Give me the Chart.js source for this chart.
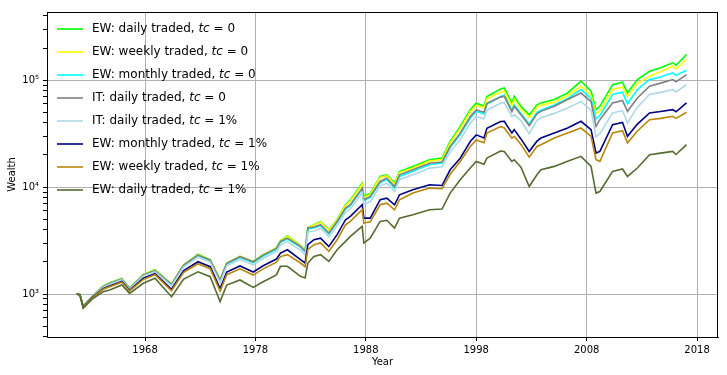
<!DOCTYPE html>
<html>
<head>
<meta charset="utf-8">
<script src="https://cdn.jsdelivr.net/npm/chart.js"></script>
<style>
  html, body { margin: 0; padding: 0; background: #fff; }
  #c { display: block; }
</style>
</head>
<body>
<canvas id="c" width="727" height="375"></canvas>
<script>
var years = [1961.8, 1962.1, 1962.4, 1963.3, 1964.2, 1964.8, 1965.9, 1966.6, 1967.85, 1968.9,
  1970.4, 1971.5, 1972.8, 1973.9, 1974.8, 1975.4, 1976.6, 1977.8, 1978.7, 1979.9,
  1980.27, 1980.9, 1982.08, 1982.5, 1982.75, 1983.3, 1983.9, 1984.65, 1985.4, 1986.16,
  1986.6, 1987.67, 1987.82, 1988.4, 1989.3, 1989.9, 1990.6, 1991.05, 1992.26, 1993.77,
  1994.9, 1995.64, 1996.55, 1997.46, 1998.0, 1998.7, 1998.97, 2000.2, 2000.54, 2001.23,
  2001.44, 2002.05, 2002.8, 2003.5, 2003.86, 2005.07, 2006.28, 2007.49, 2008.4, 2008.85,
  2009.2, 2010.35, 2011.25, 2011.7, 2012.6, 2013.7, 2014.7, 2015.8, 2016.1, 2017.05];

var ewDaily0 = [1000, 990, 770, 970, 1183, 1274, 1396, 1140, 1524, 1690,
  1235, 1880, 2355, 2095, 1360, 1950, 2250, 2015, 2330, 2700,
  3162, 3508, 2831, 2541, 4217, 4446, 4775, 3990, 4955, 6839,
  7586, 10889, 8185, 8710, 12589, 13032, 10889, 13996, 15596, 17989,
  18664, 26730, 36898, 52845, 60954, 57544, 70307, 82800, 84723, 60954,
  70795, 56885, 47424, 58884, 61376, 65917, 76033, 97949, 78886, 53088,
  57016, 90991, 95719, 76033, 101400, 121339, 130600, 145546, 138038, 174181];

var ewWeekly0 = [1000, 990, 769, 968, 1180, 1270, 1393, 1137, 1520, 1667,
  1233, 1875, 2340, 2090, 1358, 1945, 2245, 2010, 2325, 2690,
  3141, 3467, 2818, 2529, 4188, 4416, 4732, 3954, 4898, 6730,
  7413, 10593, 7998, 8511, 12303, 12735, 10641, 13677, 15136, 17498,
  18113, 25823, 35481, 50699, 58210, 54954, 67143, 77268, 79433, 57810,
  66374, 53703, 44875, 55590, 58210, 62373, 71614, 87902, 72444, 48978,
  51168, 81846, 86099, 69984, 93000, 109144, 120000, 135207, 127350, 156315];

var ewMonthly0 = [1000, 988, 765, 962, 1164, 1250, 1374, 1126, 1496, 1641,
  1219, 1845, 2280, 2051, 1330, 1905, 2193, 1963, 2265, 2618,
  3055, 3273, 2742, 2472, 4074, 4150, 4365, 3648, 4677, 6237,
  6699, 9550, 7447, 7998, 11015, 11803, 9817, 12589, 14060, 16218,
  16788, 23442, 30903, 44157, 51286, 48417, 59566, 70469, 72444, 52481,
  58884, 48978, 38905, 50119, 52481, 58614, 67608, 81846, 67608, 43652,
  46774, 73451, 77268, 60256, 82000, 101391, 107000, 117220, 110917, 124165];

var itDaily0 = [1000, 990, 767, 966, 1170, 1259, 1380, 1130, 1507, 1652,
  1230, 1866, 2312, 2080, 1352, 1936, 2234, 2004, 2312, 2673,
  3105, 3334, 2786, 2512, 4140, 4227, 4446, 3715, 4775, 6368,
  6839, 9795, 7621, 8185, 11298, 12134, 10139, 13032, 14521, 16749,
  17179, 23988, 31989, 45709, 52845, 50119, 60954, 69500, 70795, 50933,
  57016, 47534, 37584, 48417, 51168, 57016, 65917, 75858, 63096, 37068,
  42756, 61376, 64565, 51168, 68200, 87902, 94000, 101391, 96605, 112980];

var itDaily1 = [1000, 987, 764, 959, 1153, 1236, 1358, 1114, 1476, 1618,
  1191, 1799, 2213, 1991, 1279, 1832, 2104, 1875, 2158, 2495,
  2884, 3090, 2570, 2317, 3802, 3890, 4121, 3428, 4365, 5821,
  6237, 8790, 6839, 7328, 10233, 10889, 9120, 11722, 13032, 15066,
  15488, 21380, 27669, 39628, 45709, 43652, 52481, 60954, 61660, 45709,
  47643, 41687, 31623, 42170, 44668, 48978, 54954, 63096, 52481, 29512,
  31623, 49431, 51999, 39811, 56000, 73451, 77000, 81846, 77625, 90991];

var ewMonthly1 = [1000, 982, 754, 944, 1119, 1189, 1312, 1081, 1403, 1549,
  1107, 1656, 2004, 1803, 1125, 1607, 1828, 1607, 1837, 2123,
  2415, 2594, 2094, 1950, 2891, 3221, 3334, 2786, 3589, 4955,
  5321, 6839, 5129, 5129, 7621, 7889, 6839, 8472, 9441, 10520,
  10351, 14521, 18664, 26730, 30832, 28840, 35481, 41115, 41305, 31989,
  34514, 28249, 21528, 26915, 28774, 32063, 35727, 41305, 34514, 20845,
  21577, 38371, 40365, 29854, 38900, 49431, 51000, 53088, 50699, 61376];

var ewWeekly1 = [1000, 980, 750, 938, 1107, 1167, 1291, 1069, 1371, 1517,
  1072, 1596, 1919, 1726, 1062, 1517, 1722, 1503, 1718, 1986,
  2239, 2333, 1950, 1799, 2594, 2891, 3006, 2506, 3221, 4446,
  4775, 6138, 4613, 4732, 6839, 7079, 6138, 7621, 8790, 9795,
  9661, 13183, 17378, 23988, 27669, 26002, 31989, 36898, 35727, 28708,
  29854, 25119, 19055, 23988, 24946, 28774, 32063, 35727, 29854, 18030,
  17418, 32063, 33729, 25882, 33500, 42756, 44000, 46026, 43954, 50119];

var ewDaily1 = [1000, 975, 735, 912, 1050, 1089, 1213, 1014, 1259, 1403,
  944, 1380, 1614, 1452, 851, 1213, 1352, 1153, 1303, 1507,
  1816, 1816, 1462, 1413, 1950, 2249, 2333, 2018, 2594, 3105,
  3459, 4285, 2999, 3334, 4775, 4898, 4140, 5129, 5508, 6138,
  6237, 8790, 11722, 15066, 17378, 16406, 18664, 21700, 21577, 17378,
  18030, 15346, 10139, 13032, 14555, 15631, 17418, 19409, 15631, 8790,
  9099, 14028, 14791, 12589, 15100, 20091, 20800, 21577, 20184, 24946];

var labelNames = ["EW: daily traded, ", "EW: weekly traded, ", "EW: monthly traded, ",
  "IT: daily traded, ", "IT: daily traded, ", "EW: monthly traded, ",
  "EW: weekly traded, ", "EW: daily traded, "];
var labelCosts = ["0", "0", "0", "0", "1%", "1%", "1%", "1%"];
var colours = ["#00ff00", "#ffff00", "#00ffff", "#808080", "#add8e6", "#000080", "#b8860b", "#556b2f"];
var seriesList = [ewDaily0, ewWeekly0, ewMonthly0, itDaily0, itDaily1, ewMonthly1, ewWeekly1, ewDaily1];

var xTicks = [1968, 1978, 1988, 1998, 2008, 2018];
var yMajor = [1000, 10000, 100000];
var yTickLabels = ["10\u00b3", "10\u2074", "10\u2075"];

var FONT = "'DejaVu Sans', sans-serif";

var datasets = [];
for (var i = 0; i < seriesList.length; i++) {
  var pts = [];
  for (var j = 0; j < years.length; j++) {
    pts.push({x: years[j], y: seriesList[i][j]});
  }
  datasets.push({
    label: labelNames[i] + "tc = " + labelCosts[i],
    data: pts,
    borderColor: colours[i],
    backgroundColor: colours[i],
    borderWidth: 1.6,
    pointRadius: 0,
    tension: 0,
    fill: false,
    order: seriesList.length - 1 - i   // later series drawn on top
  });
}

// frame round the plot + legend with italic "tc"
var framePlugin = {
  id: "frame",
  afterDraw: function (chart) {
    var ctx = chart.ctx, a = chart.chartArea;
    ctx.save();
    ctx.strokeStyle = "#000";
    ctx.lineWidth = 1;
    ctx.strokeRect(Math.round(a.left) + 0.5, Math.round(a.top) + 0.5,
      Math.round(a.right - a.left) - 1, Math.round(a.bottom - a.top));

    ctx.textBaseline = "middle";
    for (var k = 0; k < labelNames.length; k++) {
      var y = a.top + 17 + k * 23.0;
      ctx.globalAlpha = 0.8;
      ctx.strokeStyle = colours[k];
      ctx.lineWidth = 2;
      ctx.beginPath();
      ctx.moveTo(a.left + 10, y);
      ctx.lineTo(a.left + 36, y);
      ctx.stroke();
      ctx.globalAlpha = 1;
      ctx.fillStyle = "#000";
      var x = a.left + 45;
      ctx.font = "12px " + FONT;
      ctx.fillText(labelNames[k], x, y);
      x += ctx.measureText(labelNames[k]).width;
      ctx.font = "italic 12px " + FONT;
      ctx.fillText("tc", x, y);
      x += ctx.measureText("tc").width;
      ctx.font = "12px " + FONT;
      ctx.fillText(" = " + labelCosts[k], x, y);
    }
    ctx.restore();
  }
};

new Chart(document.getElementById("c"), {
  type: "line",
  data: { datasets: datasets },
  plugins: [framePlugin],
  options: {
    responsive: false,
    animation: false,
    devicePixelRatio: 1,
    layout: { padding: { top: 12, right: 9, left: 0, bottom: 0 } },
    plugins: { legend: { display: false }, tooltip: { enabled: false } },
    scales: {
      x: {
        type: "linear",
        min: 1959.12,
        max: 2019.9,
        afterBuildTicks: function (scale) {
          scale.ticks = xTicks.map(function (v) { return {value: v}; });
        },
        afterFit: function (scale) { scale.height = 38; },
        ticks: {
          autoSkip: false,
          maxRotation: 0,
          padding: 3,
          color: "#000",
          font: { family: FONT, size: 10 },
          callback: function (v) { return String(v); }
        },
        grid: { color: "#b0b0b0", lineWidth: 1, tickColor: "#000", tickLength: 4 },
        border: { display: true, color: "#000" },
        title: {
          display: true, text: "Year", color: "#000",
          font: { family: FONT, size: 10 }, padding: { top: 0, bottom: 7 }
        }
      },
      y: {
        type: "logarithmic",
        min: 396,
        max: 435000,
        afterBuildTicks: function (scale) {
          var t = [];
          var decades = [100, 1000, 10000, 100000];
          for (var d = 0; d < decades.length; d++) {
            for (var m = 1; m <= 9; m++) {
              var v = decades[d] * m;
              if (v >= 396 && v <= 435000) t.push({value: v});
            }
          }
          scale.ticks = t;
        },
        afterFit: function (scale) { scale.width = 47; },
        ticks: {
          autoSkip: false,
          padding: 4,
          color: "#000",
          font: { family: FONT, size: 10 },
          callback: function (v) {
            var idx = yMajor.indexOf(v);
            return idx >= 0 ? yTickLabels[idx] : "";
          }
        },
        grid: {
          lineWidth: 1,
          tickLength: 4,
          tickColor: "#000",
          color: function (c) {
            return (c.tick && yMajor.indexOf(c.tick.value) >= 0) ? "#b0b0b0" : "rgba(0,0,0,0)";
          }
        },
        border: { display: true, color: "#000" },
        title: {
          display: true, text: "Wealth", color: "#000",
          font: { family: FONT, size: 10 }, padding: { top: 6, bottom: 0 }
        }
      }
    }
  }
});
</script>
</body>
</html>
